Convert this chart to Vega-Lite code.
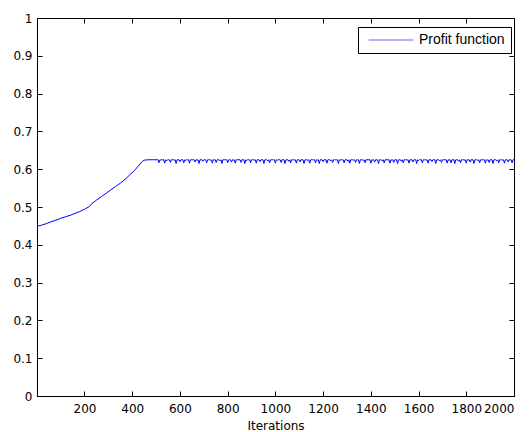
{
  "$schema": "https://vega.github.io/schema/vega-lite/v6.json",
  "autosize": {"type": "none"},
  "padding": {"left": 37, "top": 18, "right": 15, "bottom": 36},
  "width": 477,
  "height": 378,
  "background": "white",
  "config": {
    "view": {"stroke": "black", "strokeWidth": 1},
    "axis": {
      "grid": false,
      "domainColor": "black",
      "tickColor": "black",
      "tickSize": -5,
      "labelFont": "DejaVu Sans",
      "labelFontSize": 12,
      "labelColor": "black",
      "titleFont": "DejaVu Sans",
      "titleFontSize": 12,
      "titleFontWeight": "normal",
      "titleColor": "black"
    }
  },
  "data": {"values": [
    {"i":1,"v":0.449},{"i":20,"v":0.452},{"i":40,"v":0.456},{"i":60,"v":0.461},{"i":80,"v":0.465},{"i":100,"v":0.470},{"i":120,"v":0.474},{"i":140,"v":0.478},{"i":160,"v":0.483},{"i":180,"v":0.488},{"i":200,"v":0.494},{"i":220,"v":0.501},{"i":229,"v":0.508},{"i":250,"v":0.518},{"i":270,"v":0.527},{"i":290,"v":0.536},{"i":310,"v":0.545},{"i":330,"v":0.554},{"i":350,"v":0.563},{"i":370,"v":0.573},{"i":390,"v":0.585},{"i":410,"v":0.597},{"i":425,"v":0.608},{"i":440,"v":0.619},{"i":450,"v":0.624},{"i":470,"v":0.625},{"i":490,"v":0.625},{"i":500,"v":0.625},
    {"i":504,"v":0.625},{"i":508,"v":0.625},{"i":512,"v":0.617},{"i":516,"v":0.625},{"i":520,"v":0.624},{"i":524,"v":0.625},{"i":528,"v":0.625},{"i":532,"v":0.625},{"i":536,"v":0.616},{"i":540,"v":0.625},{"i":544,"v":0.622},{"i":548,"v":0.625},{"i":552,"v":0.625},{"i":556,"v":0.625},{"i":560,"v":0.618},{"i":564,"v":0.625},{"i":568,"v":0.625},{"i":572,"v":0.625},{"i":576,"v":0.624},{"i":580,"v":0.625},{"i":584,"v":0.615},{"i":588,"v":0.625},{"i":592,"v":0.625},{"i":596,"v":0.625},{"i":600,"v":0.620},{"i":604,"v":0.625},{"i":608,"v":0.625},{"i":612,"v":0.625},{"i":616,"v":0.617},{"i":620,"v":0.625},{"i":624,"v":0.623},{"i":628,"v":0.625},{"i":632,"v":0.625},{"i":636,"v":0.625},{"i":640,"v":0.616},{"i":644,"v":0.625},{"i":648,"v":0.625},{"i":652,"v":0.625},{"i":656,"v":0.625},{"i":660,"v":0.625},{"i":664,"v":0.619},{"i":668,"v":0.625},{"i":672,"v":0.624},{"i":676,"v":0.625},{"i":680,"v":0.615},{"i":684,"v":0.625},{"i":688,"v":0.625},{"i":692,"v":0.625},{"i":696,"v":0.621},{"i":700,"v":0.625},{"i":704,"v":0.625},{"i":708,"v":0.625},{"i":712,"v":0.617},{"i":716,"v":0.625},{"i":720,"v":0.625},{"i":724,"v":0.625},{"i":728,"v":0.624},{"i":732,"v":0.625},{"i":736,"v":0.616},{"i":740,"v":0.625},{"i":744,"v":0.625},{"i":748,"v":0.625},{"i":752,"v":0.618},{"i":756,"v":0.625},{"i":760,"v":0.625},{"i":764,"v":0.625},{"i":768,"v":0.622},{"i":772,"v":0.625},{"i":776,"v":0.615},{"i":780,"v":0.625},{"i":784,"v":0.625},{"i":788,"v":0.625},{"i":792,"v":0.625},{"i":796,"v":0.625},{"i":800,"v":0.617},{"i":804,"v":0.625},{"i":808,"v":0.625},{"i":812,"v":0.625},{"i":816,"v":0.619},{"i":820,"v":0.625},{"i":824,"v":0.624},{"i":828,"v":0.625},{"i":832,"v":0.616},{"i":836,"v":0.625},{"i":840,"v":0.625},{"i":844,"v":0.625},{"i":848,"v":0.625},{"i":852,"v":0.625},{"i":856,"v":0.618},{"i":860,"v":0.625},{"i":864,"v":0.625},{"i":868,"v":0.625},{"i":872,"v":0.615},{"i":876,"v":0.625},{"i":880,"v":0.623},{"i":884,"v":0.625},{"i":888,"v":0.625},{"i":892,"v":0.625},{"i":896,"v":0.617},{"i":900,"v":0.625},{"i":904,"v":0.625},{"i":908,"v":0.625},{"i":912,"v":0.624},{"i":916,"v":0.625},{"i":920,"v":0.616},{"i":924,"v":0.625},{"i":928,"v":0.625},{"i":932,"v":0.625},{"i":936,"v":0.620},{"i":940,"v":0.625},{"i":944,"v":0.625},{"i":948,"v":0.625},{"i":952,"v":0.615},{"i":956,"v":0.625},{"i":960,"v":0.625},{"i":964,"v":0.625},{"i":968,"v":0.622},{"i":972,"v":0.625},{"i":976,"v":0.617},{"i":980,"v":0.625},{"i":984,"v":0.625},{"i":988,"v":0.625},{"i":992,"v":0.625},{"i":996,"v":0.625},
    {"i":1000,"v":0.616},{"i":1004,"v":0.625},{"i":1008,"v":0.624},{"i":1012,"v":0.625},{"i":1016,"v":0.625},{"i":1020,"v":0.625},{"i":1024,"v":0.618},{"i":1028,"v":0.625},{"i":1032,"v":0.625},{"i":1036,"v":0.625},{"i":1040,"v":0.615},{"i":1044,"v":0.625},{"i":1048,"v":0.625},{"i":1052,"v":0.625},{"i":1056,"v":0.621},{"i":1060,"v":0.625},{"i":1064,"v":0.617},{"i":1068,"v":0.625},{"i":1072,"v":0.625},{"i":1076,"v":0.625},{"i":1080,"v":0.624},{"i":1084,"v":0.625},{"i":1088,"v":0.616},{"i":1092,"v":0.625},{"i":1096,"v":0.625},{"i":1100,"v":0.625},{"i":1104,"v":0.619},{"i":1108,"v":0.625},{"i":1112,"v":0.625},{"i":1116,"v":0.625},{"i":1120,"v":0.615},{"i":1124,"v":0.625},{"i":1128,"v":0.625},{"i":1132,"v":0.625},{"i":1136,"v":0.623},{"i":1140,"v":0.625},{"i":1144,"v":0.616},{"i":1148,"v":0.625},{"i":1152,"v":0.625},{"i":1156,"v":0.625},{"i":1160,"v":0.625},{"i":1164,"v":0.625},{"i":1168,"v":0.617},{"i":1172,"v":0.625},{"i":1176,"v":0.624},{"i":1180,"v":0.625},{"i":1184,"v":0.615},{"i":1188,"v":0.625},{"i":1192,"v":0.625},{"i":1196,"v":0.625},{"i":1200,"v":0.620},{"i":1204,"v":0.625},{"i":1208,"v":0.625},{"i":1212,"v":0.625},{"i":1216,"v":0.616},{"i":1220,"v":0.625},{"i":1224,"v":0.625},{"i":1228,"v":0.625},{"i":1232,"v":0.622},{"i":1236,"v":0.625},{"i":1240,"v":0.618},{"i":1244,"v":0.625},{"i":1248,"v":0.625},{"i":1252,"v":0.625},{"i":1256,"v":0.625},{"i":1260,"v":0.625},{"i":1264,"v":0.615},{"i":1268,"v":0.625},{"i":1272,"v":0.624},{"i":1276,"v":0.625},{"i":1280,"v":0.625},{"i":1284,"v":0.625},{"i":1288,"v":0.617},{"i":1292,"v":0.625},{"i":1296,"v":0.625},{"i":1300,"v":0.625},{"i":1304,"v":0.621},{"i":1308,"v":0.625},{"i":1312,"v":0.616},{"i":1316,"v":0.625},{"i":1320,"v":0.625},{"i":1324,"v":0.625},{"i":1328,"v":0.624},{"i":1332,"v":0.625},{"i":1336,"v":0.618},{"i":1340,"v":0.625},{"i":1344,"v":0.625},{"i":1348,"v":0.625},{"i":1352,"v":0.615},{"i":1356,"v":0.625},{"i":1360,"v":0.625},{"i":1364,"v":0.625},{"i":1368,"v":0.623},{"i":1372,"v":0.625},{"i":1376,"v":0.617},{"i":1380,"v":0.625},{"i":1384,"v":0.625},{"i":1388,"v":0.625},{"i":1392,"v":0.625},{"i":1396,"v":0.625},{"i":1400,"v":0.616},{"i":1404,"v":0.625},{"i":1408,"v":0.624},{"i":1412,"v":0.625},{"i":1416,"v":0.619},{"i":1420,"v":0.625},{"i":1424,"v":0.625},{"i":1428,"v":0.625},{"i":1432,"v":0.615},{"i":1436,"v":0.625},{"i":1440,"v":0.625},{"i":1444,"v":0.625},{"i":1448,"v":0.622},{"i":1452,"v":0.625},{"i":1456,"v":0.617},{"i":1460,"v":0.625},{"i":1464,"v":0.625},{"i":1468,"v":0.625},{"i":1472,"v":0.625},{"i":1476,"v":0.625},{"i":1480,"v":0.616},{"i":1484,"v":0.625},{"i":1488,"v":0.624},{"i":1492,"v":0.625},{"i":1496,"v":0.618},
    {"i":1500,"v":0.625},{"i":1504,"v":0.625},{"i":1508,"v":0.625},{"i":1512,"v":0.615},{"i":1516,"v":0.625},{"i":1520,"v":0.625},{"i":1524,"v":0.625},{"i":1528,"v":0.621},{"i":1532,"v":0.625},{"i":1536,"v":0.617},{"i":1540,"v":0.625},{"i":1544,"v":0.625},{"i":1548,"v":0.625},{"i":1552,"v":0.624},{"i":1556,"v":0.625},{"i":1560,"v":0.616},{"i":1564,"v":0.625},{"i":1568,"v":0.625},{"i":1572,"v":0.625},{"i":1576,"v":0.619},{"i":1580,"v":0.625},{"i":1584,"v":0.625},{"i":1588,"v":0.625},{"i":1592,"v":0.615},{"i":1596,"v":0.625},{"i":1600,"v":0.623},{"i":1604,"v":0.625},{"i":1608,"v":0.625},{"i":1612,"v":0.625},{"i":1616,"v":0.617},{"i":1620,"v":0.625},{"i":1624,"v":0.625},{"i":1628,"v":0.625},{"i":1632,"v":0.624},{"i":1636,"v":0.625},{"i":1640,"v":0.616},{"i":1644,"v":0.625},{"i":1648,"v":0.625},{"i":1652,"v":0.625},{"i":1656,"v":0.620},{"i":1660,"v":0.625},{"i":1664,"v":0.625},{"i":1668,"v":0.625},{"i":1672,"v":0.615},{"i":1676,"v":0.625},{"i":1680,"v":0.625},{"i":1684,"v":0.625},{"i":1688,"v":0.622},{"i":1692,"v":0.625},{"i":1696,"v":0.618},{"i":1700,"v":0.625},{"i":1704,"v":0.625},{"i":1708,"v":0.625},{"i":1712,"v":0.625},{"i":1716,"v":0.625},{"i":1720,"v":0.616},{"i":1724,"v":0.625},{"i":1728,"v":0.624},{"i":1732,"v":0.625},{"i":1736,"v":0.617},{"i":1740,"v":0.625},{"i":1744,"v":0.625},{"i":1748,"v":0.625},{"i":1752,"v":0.615},{"i":1756,"v":0.625},{"i":1760,"v":0.625},{"i":1764,"v":0.625},{"i":1768,"v":0.621},{"i":1772,"v":0.625},{"i":1776,"v":0.617},{"i":1780,"v":0.625},{"i":1784,"v":0.625},{"i":1788,"v":0.625},{"i":1792,"v":0.624},{"i":1796,"v":0.625},{"i":1800,"v":0.616},{"i":1804,"v":0.625},{"i":1808,"v":0.625},{"i":1812,"v":0.625},{"i":1816,"v":0.619},{"i":1820,"v":0.625},{"i":1824,"v":0.625},{"i":1828,"v":0.625},{"i":1832,"v":0.615},{"i":1836,"v":0.625},{"i":1840,"v":0.625},{"i":1844,"v":0.625},{"i":1848,"v":0.623},{"i":1852,"v":0.625},{"i":1856,"v":0.617},{"i":1860,"v":0.625},{"i":1864,"v":0.625},{"i":1868,"v":0.625},{"i":1872,"v":0.625},{"i":1876,"v":0.625},{"i":1880,"v":0.616},{"i":1884,"v":0.625},{"i":1888,"v":0.624},{"i":1892,"v":0.625},{"i":1896,"v":0.618},{"i":1900,"v":0.625},{"i":1904,"v":0.625},{"i":1908,"v":0.625},{"i":1912,"v":0.615},{"i":1916,"v":0.625},{"i":1920,"v":0.625},{"i":1924,"v":0.625},{"i":1928,"v":0.622},{"i":1932,"v":0.625},{"i":1936,"v":0.617},{"i":1940,"v":0.625},{"i":1944,"v":0.625},{"i":1948,"v":0.625},{"i":1952,"v":0.624},{"i":1956,"v":0.625},{"i":1960,"v":0.616},{"i":1964,"v":0.625},{"i":1968,"v":0.625},{"i":1972,"v":0.625},{"i":1976,"v":0.619},{"i":1980,"v":0.625},{"i":1984,"v":0.625},{"i":1988,"v":0.625},{"i":1992,"v":0.617},{"i":1996,"v":0.625},{"i":2000,"v":0.625}
  ]},
  "layer": [
    {
      "mark": {"type": "line", "strokeWidth": 1, "interpolate": "linear"},
      "encoding": {
        "x": {"field": "i", "type": "quantitative", "scale": {"domain": [1, 2000], "nice": false, "zero": false},
              "axis": {"orient": "bottom", "values": [200,400,600,800,1000,1200,1400,1600,1800,2000], "format": "d", "title": "Iterations", "labelPadding": 12, "titlePadding": 6}},
        "y": {"field": "v", "type": "quantitative", "scale": {"domain": [0, 1], "nice": false},
              "axis": {"orient": "left", "values": [0,0.1,0.2,0.3,0.4,0.5,0.6,0.7,0.8,0.9,1], "format": "~g", "title": null, "labelPadding": 10}},
        "color": {"datum": "Profit function", "type": "nominal",
                  "scale": {"range": ["#0000ff"]},
                  "legend": {"title": null, "orient": "none", "legendX": 321, "legendY": 9,
                             "strokeColor": "black", "fillColor": "white", "padding": 6,
                             "symbolType": "M-4,0H4", "symbolSize": 126, "symbolStrokeWidth": 1, "symbolOffset": 20, "symbolOpacity": 0.6,
                             "labelFont": "Liberation Sans", "labelFontSize": 14, "labelColor": "black", "labelOffset": 21}}
      }
    },
    {
      "mark": {"type": "line", "opacity": 0},
      "encoding": {
        "x": {"field": "i", "type": "quantitative",
              "axis": {"orient": "top", "values": [200,400,600,800,1000,1200,1400,1600,1800,2000], "labels": false, "title": null}},
        "y": {"field": "v", "type": "quantitative",
              "axis": {"orient": "right", "values": [0,0.1,0.2,0.3,0.4,0.5,0.6,0.7,0.8,0.9,1], "labels": false, "title": null}}
      }
    }
  ],
  "resolve": {"axis": {"x": "independent", "y": "independent"}}
}
